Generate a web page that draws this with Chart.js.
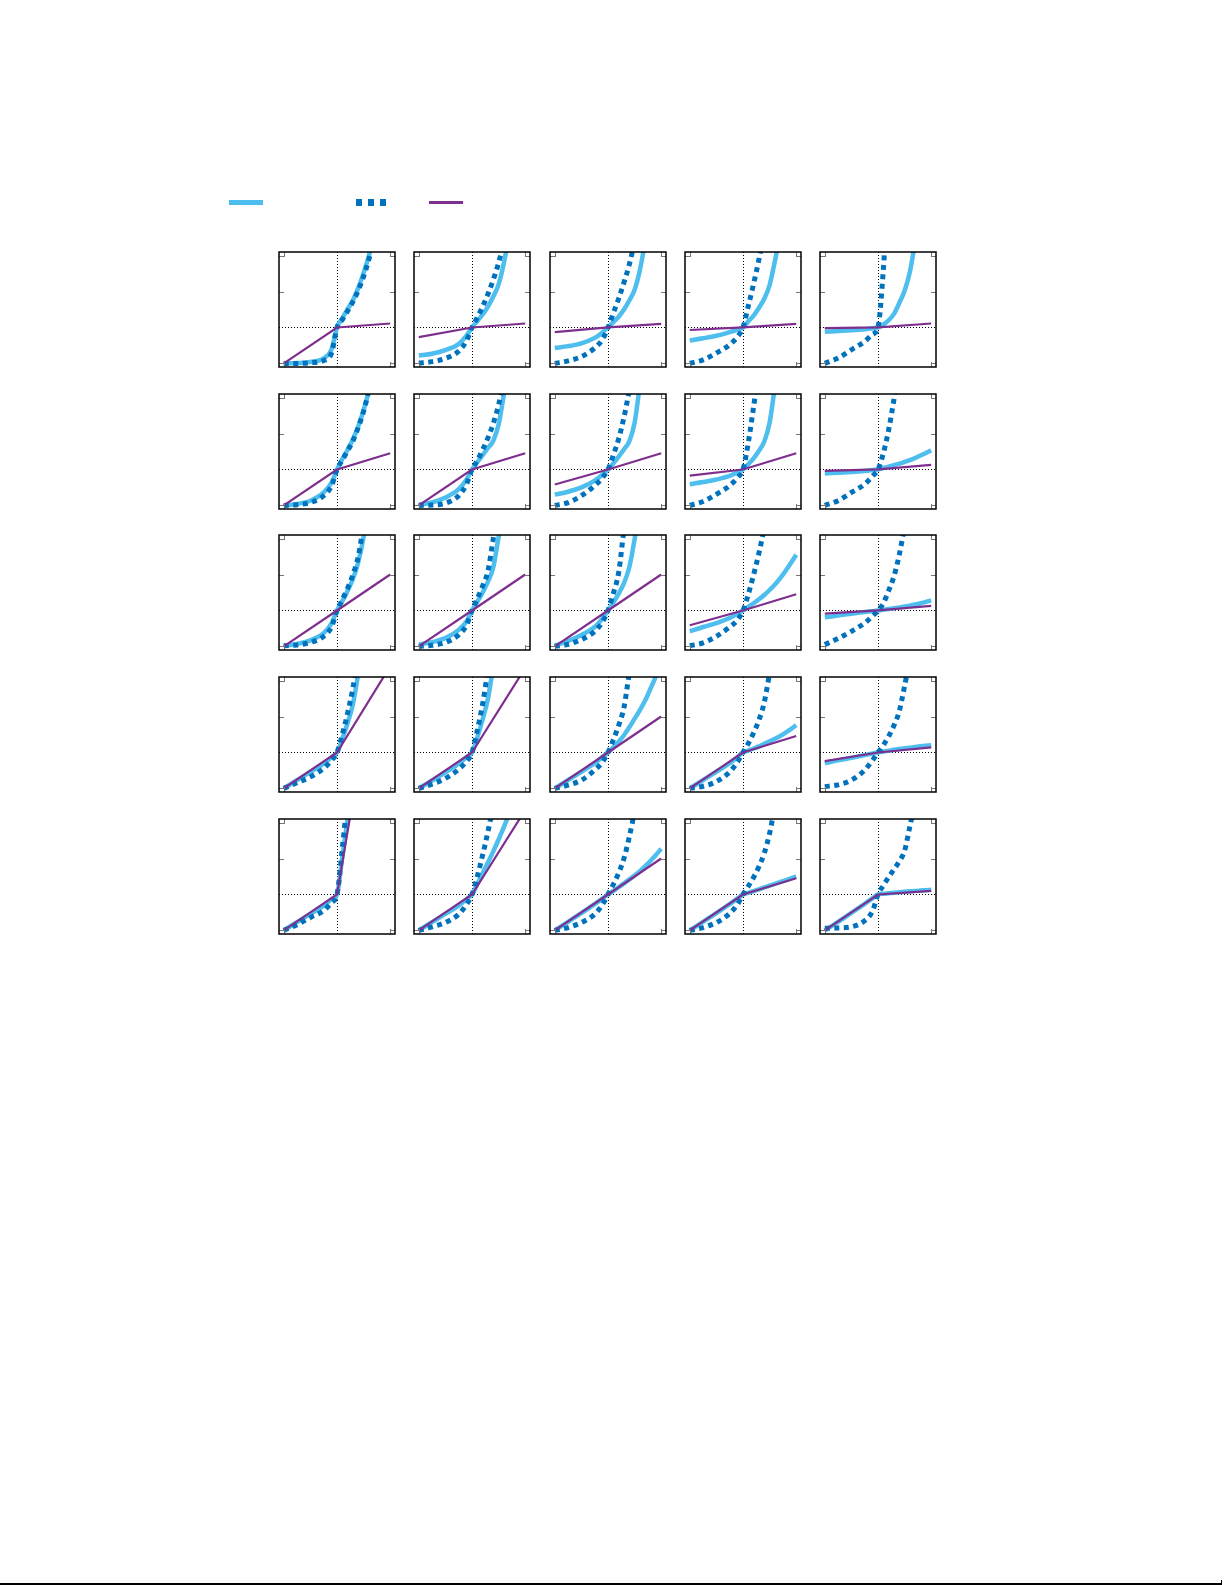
<!DOCTYPE html>
<html>
<head>
<meta charset="utf-8">
<script src="https://cdn.jsdelivr.net/npm/chart.js@4.4.1/dist/chart.umd.min.js"></script>
<style>
  html, body { margin: 0; padding: 0; background: #fff; }
  #page { position: relative; width: 1225px; height: 1585px; overflow: hidden; background: #fff; }
  .panel { position: absolute; }
  .key { position: absolute; }
  #rule { position: absolute; left: 0; top: 1583px; width: 1222px; height: 2px; background: #000; }
  #ruleEnd { position: absolute; left: 1221px; top: 1580px; width: 1px; height: 3px; background: #000; }
</style>
</head>
<body>
<div id="page">
  <div id="legend"></div>
  <div id="grid"></div>
  <div id="rule"></div>
  <div id="ruleEnd"></div>
</div>
<script>
// x positions shared by both curved series
const xs = [-1, -0.75, -0.5, -0.25, -0.1, 0, 0.1, 0.2, 0.3, 0.4, 0.5, 0.6, 0.7, 0.8, 0.9, 1];
// the straight (kinked) series only needs its ends and the kink
const kinkXs = [-1, 0, 1];

const xTicks = [-1, 1];
const yTicks = [-1, 1, 2];

// light blue solid curve, panels row by row (5 x 5)
const lightBlue = [
  [-1.0, -0.99, -0.96, -0.86, -0.6, 0, 0.26, 0.51, 0.76, 1.1, 1.52, 2.0, 2.6, 3.3, 4.0, 4.8],
  [-0.78, -0.73, -0.63, -0.46, -0.22, 0, 0.18, 0.36, 0.58, 0.86, 1.2, 1.8, 2.6, 3.4, 4.2, 5.0],
  [-0.57, -0.52, -0.44, -0.29, -0.13, 0, 0.15, 0.3, 0.5, 0.75, 1.05, 1.6, 2.4, 3.2, 4.0, 4.8],
  [-0.36, -0.3, -0.23, -0.13, -0.06, 0, 0.17, 0.33, 0.55, 0.8, 1.18, 1.85, 2.6, 3.4, 4.2, 5.0],
  [-0.12, -0.1, -0.08, -0.05, -0.02, 0, 0.08, 0.2, 0.38, 0.68, 1.02, 1.55, 2.4, 3.2, 4.0, 4.8],

  [-1.0, -0.96, -0.87, -0.64, -0.36, 0, 0.29, 0.55, 0.84, 1.2, 1.65, 2.2, 2.9, 3.6, 4.3, 5.0],
  [-0.98, -0.92, -0.78, -0.55, -0.27, 0, 0.2, 0.4, 0.6, 0.8, 1.25, 2.1, 3.0, 3.8, 4.6, 5.3],
  [-0.7, -0.62, -0.5, -0.31, -0.14, 0, 0.17, 0.36, 0.56, 0.78, 1.3, 2.35, 3.3, 4.1, 4.9, 5.6],
  [-0.41, -0.35, -0.28, -0.18, -0.08, 0, 0.15, 0.31, 0.52, 0.78, 1.3, 2.3, 3.2, 4.0, 4.8, 5.5],
  [-0.11, -0.09, -0.07, -0.04, -0.015, 0, 0.04, 0.08, 0.12, 0.16, 0.21, 0.26, 0.32, 0.39, 0.46, 0.53],

  [-0.98, -0.93, -0.83, -0.63, -0.35, 0, 0.26, 0.55, 0.88, 1.35, 2.05, 3.0, 3.9, 4.8, 5.6, 6.4],
  [-0.95, -0.88, -0.77, -0.54, -0.3, 0, 0.24, 0.5, 0.8, 1.2, 2.05, 2.9, 3.7, 4.5, 5.3, 6.0],
  [-0.98, -0.85, -0.68, -0.46, -0.21, 0, 0.22, 0.47, 0.76, 1.2, 1.98, 2.9, 3.7, 4.5, 5.3, 6.0],
  [-0.58, -0.46, -0.35, -0.21, -0.09, 0, 0.1, 0.2, 0.31, 0.43, 0.57, 0.72, 0.9, 1.1, 1.32, 1.55],
  [-0.19, -0.14, -0.09, -0.045, -0.018, 0, 0.02, 0.04, 0.06, 0.085, 0.11, 0.135, 0.165, 0.2, 0.24, 0.28],

  [-1.0, -0.77, -0.54, -0.31, -0.13, 0, 0.38, 0.82, 1.35, 2.2, 3.1, 4.0, 4.8, 5.6, 6.4, 7.2],
  [-1.0, -0.78, -0.55, -0.31, -0.13, 0, 0.42, 0.92, 1.5, 2.4, 3.3, 4.1, 4.9, 5.7, 6.5, 7.3],
  [-1.0, -0.77, -0.54, -0.3, -0.12, 0, 0.14, 0.3, 0.48, 0.7, 0.94, 1.18, 1.45, 1.78, 2.12, 2.5],
  [-1.0, -0.77, -0.54, -0.3, -0.12, 0, 0.05, 0.11, 0.17, 0.24, 0.31, 0.38, 0.46, 0.55, 0.65, 0.76],
  [-0.3, -0.22, -0.15, -0.075, -0.03, 0, 0.025, 0.05, 0.075, 0.095, 0.115, 0.135, 0.155, 0.17, 0.185, 0.2],

  [-1.0, -0.77, -0.54, -0.31, -0.13, 0, 1.05, 2.1, 3.2, 4.3, 5.4, 6.5, 7.6, 8.7, 9.8, 11],
  [-1.0, -0.77, -0.54, -0.31, -0.13, 0, 0.29, 0.59, 0.89, 1.2, 1.53, 1.88, 2.25, 2.65, 3.05, 3.5],
  [-1.0, -0.76, -0.52, -0.27, -0.11, 0, 0.1, 0.2, 0.31, 0.42, 0.53, 0.65, 0.79, 0.94, 1.1, 1.27],
  [-1.0, -0.76, -0.52, -0.27, -0.11, 0, 0.045, 0.095, 0.145, 0.195, 0.245, 0.295, 0.345, 0.395, 0.45, 0.5],
  [-1.0, -0.76, -0.51, -0.26, -0.1, 0, 0.02, 0.035, 0.05, 0.062, 0.075, 0.087, 0.1, 0.11, 0.12, 0.13]
];

// dark blue dotted curve
const darkBlue = [
  [-1.0, -1.0, -0.98, -0.92, -0.7, 0, 0.22, 0.46, 0.72, 1.03, 1.42, 1.9, 2.5, 3.2, 4.0, 4.8],
  [-0.99, -0.95, -0.86, -0.66, -0.36, 0, 0.28, 0.58, 0.93, 1.33, 1.8, 2.4, 3.1, 3.8, 4.5, 5.2],
  [-1.0, -0.93, -0.81, -0.57, -0.32, 0, 0.4, 0.8, 1.25, 1.75, 2.4, 3.2, 4.0, 4.8, 5.5, 6.2],
  [-1.0, -0.9, -0.71, -0.48, -0.25, 0, 0.6, 1.22, 1.9, 2.7, 3.5, 4.3, 5.0, 5.6, 6.2, 6.8],
  [-1.0, -0.85, -0.62, -0.39, -0.19, 0, 1.6, 4.0, 5.0, 5.5, 6.0, 6.5, 7.0, 7.5, 8.0, 8.5],

  [-1.0, -0.98, -0.92, -0.73, -0.45, 0, 0.26, 0.52, 0.8, 1.17, 1.62, 2.2, 2.9, 3.6, 4.3, 5.0],
  [-1.0, -0.99, -0.94, -0.73, -0.4, 0, 0.25, 0.55, 0.88, 1.28, 1.8, 2.5, 3.2, 3.9, 4.6, 5.3],
  [-1.0, -0.92, -0.73, -0.45, -0.22, 0, 0.4, 0.85, 1.45, 2.2, 3.0, 3.8, 4.5, 5.2, 5.8, 6.4],
  [-1.0, -0.89, -0.69, -0.45, -0.22, 0, 0.75, 1.75, 2.8, 3.8, 4.6, 5.3, 6.0, 6.5, 7.0, 7.5],
  [-1.0, -0.87, -0.64, -0.41, -0.18, 0, 0.45, 1.1, 1.95, 2.9, 3.8, 4.6, 5.3, 6.0, 6.6, 7.2],

  [-0.98, -0.96, -0.89, -0.72, -0.45, 0, 0.3, 0.62, 1.0, 1.5, 2.4, 3.2, 4.0, 4.8, 5.6, 6.4],
  [-1.0, -0.97, -0.89, -0.68, -0.4, 0, 0.33, 0.68, 1.1, 2.0, 2.9, 3.7, 4.4, 5.1, 5.8, 6.4],
  [-1.0, -0.94, -0.81, -0.58, -0.31, 0, 0.48, 1.05, 2.25, 3.2, 4.0, 4.7, 5.4, 6.0, 6.6, 7.2],
  [-0.98, -0.9, -0.72, -0.46, -0.26, 0, 0.45, 1.0, 1.6, 2.3, 3.1, 3.9, 4.6, 5.3, 6.0, 6.6],
  [-0.95, -0.78, -0.58, -0.35, -0.15, 0, 0.2, 0.55, 0.95, 1.55, 2.35, 3.2, 4.0, 4.7, 5.4, 6.0],

  [-1.0, -0.84, -0.68, -0.44, -0.21, 0, 0.5, 1.1, 1.8, 2.7, 3.6, 4.4, 5.2, 6.0, 6.7, 7.4],
  [-1.0, -0.88, -0.72, -0.47, -0.24, 0, 0.62, 1.35, 2.3, 3.3, 4.2, 5.0, 5.8, 6.5, 7.2, 7.9],
  [-1.0, -0.91, -0.77, -0.49, -0.26, 0, 0.35, 0.75, 1.25, 2.2, 3.0, 3.8, 4.5, 5.2, 5.8, 6.4],
  [-1.0, -0.94, -0.81, -0.54, -0.26, 0, 0.25, 0.55, 0.9, 1.4, 2.2, 3.0, 3.7, 4.4, 5.1, 5.8],
  [-0.95, -0.9, -0.77, -0.49, -0.21, 0, 0.2, 0.45, 0.75, 1.15, 1.85, 2.6, 3.3, 4.0, 4.7, 5.4],

  [-1.0, -0.84, -0.64, -0.45, -0.22, 0, 1.3, 2.7, 4.0, 5.3, 6.6, 7.9, 9.0, 10, 11, 12],
  [-1.0, -0.9, -0.78, -0.55, -0.27, 0, 0.5, 1.1, 1.75, 2.5, 3.4, 4.2, 5.0, 5.8, 6.5, 7.2],
  [-1.0, -0.92, -0.78, -0.55, -0.27, 0, 0.28, 0.6, 1.0, 1.6, 2.3, 3.0, 3.7, 4.4, 5.1, 5.8],
  [-1.0, -0.92, -0.78, -0.53, -0.27, 0, 0.23, 0.48, 0.78, 1.15, 1.7, 2.45, 3.1, 3.8, 4.5, 5.2],
  [-0.94, -0.93, -0.9, -0.73, -0.45, 0, 0.25, 0.48, 0.7, 0.92, 1.22, 1.9, 2.6, 3.3, 4.1, 4.9]
];

// purple kinked line: value at x = -1, 0, 1
const purple = [
  [-1, 0, 0.11], [-0.27, 0, 0.11], [-0.13, 0, 0.1], [-0.07, 0, 0.1], [-0.02, 0, 0.11],
  [-1, 0, 0.45], [-1, 0, 0.45], [-0.42, 0, 0.45], [-0.17, 0, 0.45], [-0.04, 0, 0.13],
  [-1, 0, 1], [-1, 0, 1], [-1, 0, 1], [-0.41, 0, 0.45], [-0.09, 0, 0.13],
  [-1, 0, 2.4], [-1, 0, 2.35], [-1, 0, 1], [-1, 0, 0.46], [-0.24, 0, 0.14],
  [-1, 0, 8.8], [-1, 0, 2.35], [-1, 0, 1], [-1, 0, 0.45], [-1, 0, 0.1]
];

const COLORS = {
  lightBlue: '#4DBEEE',
  darkBlue: '#0072BD',
  purple: '#7E2F8E'
};

const TICK = 5;

const toPoints = (xv, yv) => xv.map((x, i) => ({ x: x, y: yv[i] }));

// box, inward ticks and the dotted zero lines
const framePlugin = {
  id: 'frame',
  beforeDatasetsDraw(chart) {
    const { ctx, chartArea: a, scales: { x, y } } = chart;
    const px = Math.round(x.getPixelForValue(0)) + 0.5;
    const py = Math.round(y.getPixelForValue(0)) + 0.5;
    ctx.save();
    ctx.strokeStyle = '#000';
    ctx.lineWidth = 1;
    ctx.setLineDash([1, 2]);
    ctx.beginPath();
    ctx.moveTo(px, a.top);
    ctx.lineTo(px, a.bottom);
    ctx.moveTo(a.left, py);
    ctx.lineTo(a.right, py);
    ctx.stroke();
    ctx.restore();
  },
  afterDatasetsDraw(chart) {
    const { ctx, chartArea: a, scales: { x, y } } = chart;
    ctx.save();
    ctx.strokeStyle = '#777';
    ctx.lineWidth = 1;
    ctx.beginPath();
    xTicks.forEach(v => {
      const p = Math.round(x.getPixelForValue(v)) + 0.5;
      ctx.moveTo(p, a.top);
      ctx.lineTo(p, a.top + TICK);
      ctx.moveTo(p, a.bottom);
      ctx.lineTo(p, a.bottom - TICK);
    });
    yTicks.forEach(v => {
      const p = Math.round(y.getPixelForValue(v)) + 0.5;
      ctx.moveTo(a.left, p);
      ctx.lineTo(a.left + TICK, p);
      ctx.moveTo(a.right, p);
      ctx.lineTo(a.right - TICK, p);
    });
    ctx.stroke();
    ctx.strokeStyle = '#000';
    ctx.lineWidth = 1.5;
    ctx.strokeRect(a.left, a.top, a.right - a.left, a.bottom - a.top);
    ctx.restore();
  }
};

function buildLegend() {
  const legend = document.getElementById('legend');
  const parts = [
    { left: 229, top: 200, width: 34, height: 5, color: COLORS.lightBlue },
    { left: 356, top: 199, width: 6, height: 7, color: COLORS.darkBlue },
    { left: 368, top: 199, width: 6, height: 7, color: COLORS.darkBlue },
    { left: 380, top: 199, width: 6, height: 7, color: COLORS.darkBlue },
    { left: 429, top: 201, width: 34, height: 3, color: COLORS.purple }
  ];
  legend.innerHTML = parts.map(p =>
    `<div class="key" style="left:${p.left}px;top:${p.top}px;width:${p.width}px;height:${p.height}px;background:${p.color}"></div>`
  ).join('');
}

function createPanel(index) {
  const row = Math.floor(index / 5);
  const col = index % 5;
  const canvas = document.createElement('canvas');
  canvas.className = 'panel';
  canvas.width = 120;
  canvas.height = 119;
  canvas.style.left = Math.round(277 + col * 135.3) + 'px';
  canvas.style.top = Math.round(250 + row * 141.65) + 'px';
  document.getElementById('grid').appendChild(canvas);

  new Chart(canvas, {
    type: 'line',
    data: {
      datasets: [
        {
          data: toPoints(kinkXs, purple[index]),
          borderColor: COLORS.purple,
          borderWidth: 2.2,
          tension: 0,
          clip: 0,
          order: 0
        },
        {
          data: toPoints(xs, darkBlue[index]),
          borderColor: COLORS.darkBlue,
          borderWidth: 5,
          borderDash: [5, 4.5],
          cubicInterpolationMode: 'monotone',
          clip: 0,
          order: 1
        },
        {
          data: toPoints(xs, lightBlue[index]),
          borderColor: COLORS.lightBlue,
          borderWidth: 4.5,
          cubicInterpolationMode: 'monotone',
          clip: 0,
          order: 2
        }
      ]
    },
    options: {
      responsive: false,
      animation: false,
      events: [],
      layout: { padding: 2 },
      elements: {
        point: { radius: 0 },
        line: { capBezierPoints: false, fill: false }
      },
      plugins: {
        legend: { display: false },
        tooltip: { enabled: false }
      },
      scales: {
        x: { type: 'linear', min: -1.09, max: 1.09, display: false },
        y: { type: 'linear', min: -1.1, max: 2.1, display: false }
      }
    },
    plugins: [framePlugin]
  });
}

buildLegend();
for (let i = 0; i < 25; i++) {
  createPanel(i);
}
</script>
</body>
</html>
